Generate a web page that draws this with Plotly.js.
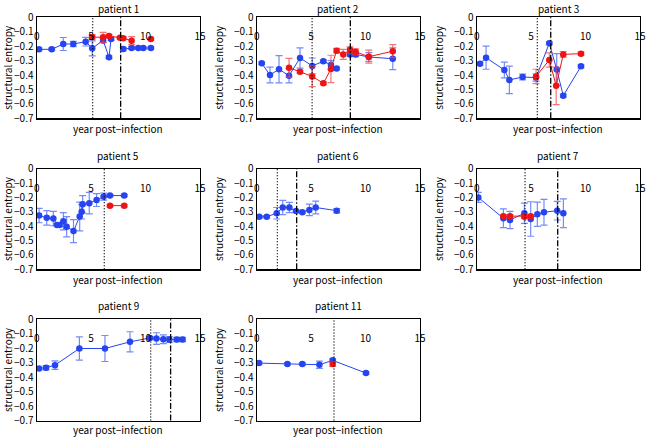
<!DOCTYPE html>
<html>
<head>
<meta charset="utf-8">
<script src="https://cdn.plot.ly/plotly-3.0.1.min.js"></script>
<style>html,body{margin:0;padding:0;background:#fff}#chart{width:646px;height:437px}</style>
</head>
<body>
<div id="chart"></div>
<script>
// ---- data ----
const panelTitles = ["patient 1","patient 2","patient 3","patient 5","patient 6","patient 7","patient 9","patient 11"];
const xTicks = [0,5,10,15];

const p1BlueX = [0.21,1.38,2.44,3.36,4.5,5.1,6.1,6.64,6.83,null,7.95,8.72,9.33,9.79,10.49];
const p1BlueY = [-0.222,-0.222,-0.185,-0.185,-0.169,-0.215,-0.16,-0.277,-0.15,null,-0.22,-0.213,-0.213,-0.213,-0.213];
const p1BlueE = [0.01,0.008,0.045,0.018,0.03,0.052,0.015,0.01,0.01,null,0.012,0.01,0.008,0.008,0.008];
const p1RedX = [5.1,6.1,6.64,7.65,7.95,8.72,null,10.49];
const p1RedY = [-0.137,-0.139,-0.13,-0.141,-0.145,-0.162,null,-0.15];
const p1RedE = [0.015,0.035,0.01,0.008,0.01,0.028,null,0.008];

const p2BlueX = [0.46,1.22,2.05,2.97,3.98,5.1,6.12,6.82,7.34,null,8.57,9.09,10.3,12.5];
const p2BlueY = [-0.319,-0.40,-0.36,-0.405,-0.282,-0.337,-0.305,-0.33,-0.355,null,-0.257,-0.257,-0.275,-0.287];
const p2BlueE = [0.008,0.055,0.095,0.05,0.07,0.055,0.01,0.03,0.01,null,0.012,0.015,0.03,0.075];
const p2RedX = [2.97,3.98,5.1,6.12,6.82,7.34,7.95,8.57,9.09,10.3,12.5];
const p2RedY = [-0.349,-0.377,-0.41,-0.457,-0.358,-0.231,-0.257,-0.225,-0.238,-0.273,-0.235];
const p2RedE = [0.065,0.01,0.07,0.01,0.095,0.015,0.035,0.02,0.02,0.045,0.045];

const p3BlueX = [0.3,0.86,2.54,3.0,4.22,5.45,6.67,7.35,7.95,9.58];
const p3BlueY = [-0.322,-0.28,-0.365,-0.434,-0.414,-0.418,-0.18,-0.362,-0.543,-0.34];
const p3BlueE = [0.01,0.08,0.055,0.095,0.02,0.025,0.01,0.11,0.01,0.01];
const p3RedX = [5.45,6.67,7.3,7.95,9.58];
const p3RedY = [-0.41,-0.296,-0.475,-0.257,-0.252];
const p3RedE = [0.05,0.05,0.13,0.02,0.01];

const p5BlueX = [0.22,0.92,1.53,1.87,2.1,2.45,2.75,3.38,3.95,4.13,4.22,4.83,5.5,6.15,6.73,8.04];
const p5BlueY = [-0.326,-0.342,-0.347,-0.391,-0.391,-0.366,-0.404,-0.434,-0.332,-0.3,-0.248,-0.24,-0.218,-0.194,-0.187,-0.187];
const p5BlueE = [0.05,0.05,0.05,0.01,0.01,0.06,0.07,0.08,0.1,0.05,0.06,0.075,0.045,0.025,0.008,0.008];
const p5RedX = [6.73,8.04];
const p5RedY = [-0.257,-0.257];
const p5RedE = [0.008,0.008];

const p6BlueX = [0.24,0.92,1.84,2.39,3.0,3.61,4.19,4.84,5.42,7.35];
const p6BlueY = [-0.334,-0.334,-0.31,-0.27,-0.27,-0.294,-0.303,-0.287,-0.27,-0.292];
const p6BlueE = [0.008,0.008,0.04,0.05,0.035,0.01,0.008,0.04,0.045,0.015];

const p7BlueX = [0.15,2.45,3.06,4.38,4.96,5.57,6.18,7.4,7.96];
const p7BlueY = [-0.2,-0.345,-0.357,-0.31,-0.35,-0.317,-0.303,-0.292,-0.31];
const p7BlueE = [0.035,0.065,0.06,0.07,0.12,0.085,0.09,0.065,0.1];
const p7RedX = [2.45,3.06,4.38,4.96];
const p7RedY = [-0.33,-0.33,-0.334,-0.33];
const p7RedE = [0.01,0.01,0.01,0.01];

const p9BlueX = [0.21,0.86,1.68,3.92,6.27,8.57,10.4,11.0,11.63,12.18,12.86,13.4];
const p9BlueY = [-0.34,-0.335,-0.317,-0.202,-0.202,-0.156,-0.129,-0.133,-0.138,-0.14,-0.14,-0.14];
const p9BlueE = [0.008,0.015,0.03,0.08,0.09,0.07,0.01,0.04,0.03,0.02,0.015,0.015];

const p11BlueX = [0.21,2.82,4.19,5.76,6.98,10.04];
const p11BlueY = [-0.303,-0.31,-0.31,-0.314,-0.284,-0.372];
const p11BlueE = [0.01,0.008,0.008,0.025,0.01,0.008];
const p11RedX = [6.98];
const p11RedY = [-0.31];
const p11RedE = [0.015];

// event lines (years post-infection)
const dottedLines = [5.14,5.09,5.57,6.21,1.9,4.44,10.47,7.1];
const dashdotLines = [7.71,8.6,6.8,null,3.67,7.44,12.3,null];

// ---- styling / layout ----
const BLUE = "rgb(38,68,240)", BLUE_ERR = "rgba(70,100,245,0.75)";
const RED = "rgb(238,20,20)", RED_ERR = "rgba(240,70,70,0.75)";
const FONT = "Noto Sans CJK JP, Liberation Sans, sans-serif";
const FS = 10;

const blues = [[p1BlueX,p1BlueY,p1BlueE],[p2BlueX,p2BlueY,p2BlueE],[p3BlueX,p3BlueY,p3BlueE],[p5BlueX,p5BlueY,p5BlueE],
               [p6BlueX,p6BlueY,p6BlueE],[p7BlueX,p7BlueY,p7BlueE],[p9BlueX,p9BlueY,p9BlueE],[p11BlueX,p11BlueY,p11BlueE]];
const reds = [[p1RedX,p1RedY,p1RedE],[p2RedX,p2RedY,p2RedE],[p3RedX,p3RedY,p3RedE],[p5RedX,p5RedY,p5RedE],
              null,[p7RedX,p7RedY,p7RedE],null,[p11RedX,p11RedY,p11RedE]];

const W = 646, H = 437;
const colPx = [[36.7,200],[256.7,420],[476.7,640]];
const rowPx = [[17.3,118.3],[168.7,269.3],[319.3,420.5]];
const titleShift = [9.3,13.2,13.5];
const xTitleShift = [-10.5,-10.5,-8.8];

const data = [], shapes = [], annotations = [];
const layout = {
  width: W, height: H, margin: {l:0,r:0,t:0,b:0},
  paper_bgcolor: "#fff", plot_bgcolor: "#fff", showlegend: false,
  font: {family: FONT, size: FS, color: "#000"}
};

for (let i = 0; i < 8; i++) {
  const r = Math.floor(i/3), c = i%3;
  const sfx = i === 0 ? "" : String(i+1);
  const xa = "x"+sfx, ya = "y"+sfx;
  layout["xaxis"+sfx] = {
    domain: [colPx[c][0]/W, colPx[c][1]/W], anchor: ya, range: [0,15],
    side: "top", tickvals: xTicks, ticktext: xTicks.map(String),
    ticks: "", showgrid: false, zeroline: false,
    showline: true, mirror: true, linecolor: "#000", linewidth: 1.2,
    ticklabelposition: "inside", ticklabeloverflow: "allow", ticklabelstandoff: 15,
    tickfont: {size: FS, color: "#000", family: FONT}, fixedrange: true
  };
  layout["yaxis"+sfx] = {
    domain: [1-rowPx[r][1]/H, 1-rowPx[r][0]/H], anchor: xa, range: [-0.7,0],
    tick0: 0, dtick: 0.1, ticks: "", showgrid: false, zeroline: false,
    showline: true, mirror: true, linecolor: "#000", linewidth: 1.2,
    tickfont: {size: FS, color: "#000", family: FONT},
    title: {text: "structural entropy", font: {size: FS, color: "#000", family: FONT}, standoff: 8},
    fixedrange: true
  };
  const b = blues[i];
  data.push({type:"scatter", mode:"lines+markers", x:b[0], y:b[1], xaxis:xa, yaxis:ya,
    line:{color:BLUE, width:1}, marker:{color:BLUE, size:6.5}, connectgaps:false,
    error_y:{type:"data", array:b[2], visible:true, color:BLUE_ERR, thickness:1.2, width:3.5}});
  const rd = reds[i];
  if (rd) data.push({type:"scatter", mode:"lines+markers", x:rd[0], y:rd[1], xaxis:xa, yaxis:ya,
    line:{color:RED, width:1}, marker:{color:RED, size:6.5}, connectgaps:false,
    error_y:{type:"data", array:rd[2], visible:true, color:RED_ERR, thickness:1.2, width:3.5}});
  if (dottedLines[i] !== null) shapes.push({type:"line", xref:xa, yref:ya+" domain", x0:dottedLines[i], x1:dottedLines[i], y0:0, y1:1,
    line:{color:"#000", width:1.3, dash:"1px,2px"}});
  if (dashdotLines[i] !== null) shapes.push({type:"line", xref:xa, yref:ya+" domain", x0:dashdotLines[i], x1:dashdotLines[i], y0:0, y1:1,
    line:{color:"#000", width:1.3, dash:"6px,2px,1.5px,2px"}});
  annotations.push({text: panelTitles[i], xref: xa+" domain", yref: ya+" domain", x: 0.5, y: 1,
    xanchor:"center", yanchor:"middle", yshift: titleShift[r], showarrow:false, font:{size:FS, family:FONT, color:"#000"}});
  annotations.push({text: "year post\u2212infection", xref: xa+" domain", yref: ya+" domain", x: 0.5, y: 0,
    xanchor:"center", yanchor:"middle", yshift: xTitleShift[r], showarrow:false, font:{size:FS, family:FONT, color:"#000"}});
}
layout.shapes = shapes;
layout.annotations = annotations;

Plotly.newPlot("chart", data, layout, {staticPlot: true});
</script>
</body>
</html>
